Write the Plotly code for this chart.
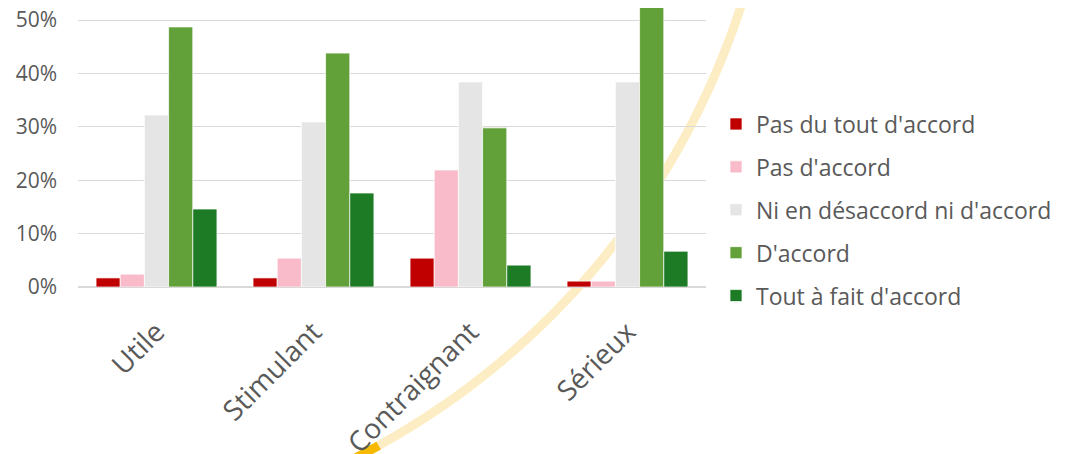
import numpy as np
import plotly.graph_objects as go

categories = ["Utile", "Stimulant", "Contraignant", "Sérieux"]
series_names = [
    "Pas du tout d'accord",
    "Pas d'accord",
    "Ni en désaccord ni d'accord",
    "D'accord",
    "Tout à fait d'accord",
]
pas_du_tout = [0.017, 0.017, 0.054, 0.011]
pas_accord = [0.024, 0.054, 0.219, 0.011]
ni_ni = [0.322, 0.309, 0.384, 0.384]
accord = [0.487, 0.438, 0.298, 0.524]
tout_a_fait = [0.146, 0.176, 0.041, 0.067]

colors = ["#C00000", "#F9BBC9", "#E5E5E5", "#62A03A", "#1E7B25"]
values = [pas_du_tout, pas_accord, ni_ni, accord, tout_a_fait]

# page has an 8px body margin, so the figure is a bit smaller than the window
OFF = 8
W, H = 1066 - OFF, 454 - OFF
X0, X1, Y0, Y1 = 78, 706, 8, 287   # plot area in page pixels
L, R, T, B = X0 - OFF, W - (X1 - OFF), Y0 - OFF, H - (Y1 - OFF)
PW, PH = X1 - X0, Y1 - Y0
PX_PER_UNIT = 534.0

TXT = "#595959"
FONT = "Open Sans"

fig = go.Figure()
for name, vals, col in zip(series_names, values, colors):
    fig.add_trace(go.Bar(
        x=categories, y=vals, name=name, legendgroup=name,
        marker=dict(color=col, line=dict(color="rgba(255,255,255,0.7)", width=1)),
    ))


def to_paper(px, py):
    return (px - X0) / PW, (Y1 - py) / PH


def arc_path(a0, a1, cx=2.0, cy=-234.0, r=777.0, n=80):
    # decorative arc, computed in page pixels then mapped to paper coords
    ang = np.radians(np.linspace(a0, a1, n))
    pts = [to_paper(cx + r * np.cos(a), cy + r * np.sin(a)) for a in ang]
    return "M" + " L".join(f"{x:.4f},{y:.4f}" for x, y in pts)


fig.add_shape(type="path", path=arc_path(14, 61.2), xref="paper", yref="paper",
              line=dict(color="#FDEDC4", width=9), layer="below")
fig.add_shape(type="path", path=arc_path(61.0, 64), xref="paper", yref="paper",
              line=dict(color="#F7B900", width=9), layer="below")

fig.update_layout(
    width=W, height=H,
    margin=dict(l=L, r=R, t=T, b=B, autoexpand=False),
    paper_bgcolor="white", plot_bgcolor="rgba(0,0,0,0)",
    font=dict(family=FONT, color=TXT),
    barmode="group", bargap=0.23, bargroupgap=0,
    xaxis=dict(
        tickangle=-45, tickfont=dict(size=28, color=TXT),
        showgrid=False, showline=False, ticks="", ticklabelstandoff=22,
        automargin=False,
    ),
    yaxis=dict(
        range=[0, PH / PX_PER_UNIT], dtick=0.1, tickformat=".0%",
        tickfont=dict(size=21, color=TXT), ticklabelstandoff=20,
        ticklabeloverflow="allow",
        showgrid=True, gridcolor="#D9D9D9", gridwidth=1.3,
        zeroline=True, zerolinecolor="#D9D9D9", zerolinewidth=1.5,
        showline=False, ticks="", automargin=False,
    ),
    legend=dict(
        x=(716 - X0) / PW, xanchor="left",
        y=(Y1 - 210) / PH, yanchor="middle",
        font=dict(size=23, color=TXT),
        traceorder="grouped", tracegroupgap=10,
        bgcolor="rgba(0,0,0,0)",
    ),
)

fig.write_html("out.html")
